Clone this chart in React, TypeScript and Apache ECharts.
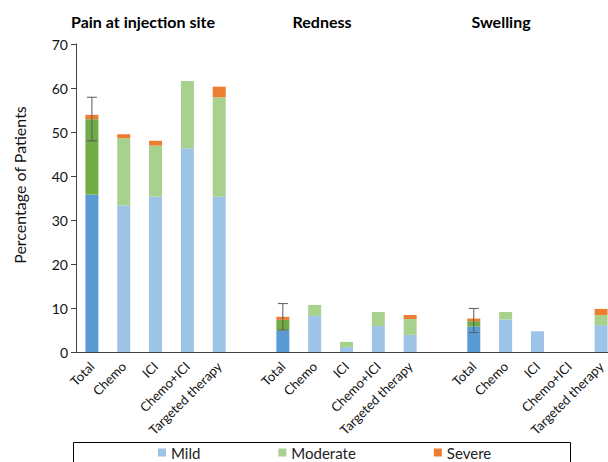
import React, { useEffect, useRef } from "react";
import * as echarts from "echarts";

const groupTitles = ["Pain at injection site", "Redness", "Swelling"];
const subCategories = ["Total", "Chemo", "ICI", "Chemo+ICI", "Targeted therapy"];

const painMild = [35.8, 33.3, 35.3, 46.3, 35.3];
const painModerate = [17.1, 15.3, 11.6, 15.3, 22.6];
const painSevere = [1.0, 0.9, 1.1, 0, 2.4];

const rednessMild = [4.9, 8.2, 1.1, 5.9, 3.9];
const rednessModerate = [2.4, 2.5, 1.2, 3.2, 3.6];
const rednessSevere = [0.7, 0, 0, 0, 0.9];

const swellingMild = [5.8, 7.4, 4.7, 0, 6.1];
const swellingModerate = [1.2, 1.7, 0, 0, 2.3];
const swellingSevere = [0.6, 0, 0, 0, 1.4];

// error bars on the "Total" bars: [low, high]
const painError = [48.0, 57.9];
const rednessError = [5.0, 11.0];
const swellingError = [4.4, 9.9];

const yTicks = [0, 10, 20, 30, 40, 50, 60, 70];

const FONT = "Lato, 'Open Sans', sans-serif";
const C_MILD = "#9DC3E6";
const C_MOD = "#A9D18E";
const C_SEV = "#ED7D31";
const C_MILD_T = "#5B9BD5";
const C_MOD_T = "#70AD47";

function joinGroups(groups: any[][]): any[] {
  const out: any[] = [];
  groups.forEach((g, i) => {
    g.forEach((v) => out.push(v));
    if (i < groups.length - 1) out.push("-");
  });
  return out;
}

export default function App() {
  const ref = useRef<HTMLDivElement>(null);
  useEffect(() => {
    document.body.style.margin = "0";
    const chart = echarts.init(ref.current!, null, { renderer: "svg" });

    const cats = joinGroups([subCategories, subCategories, subCategories]).map((c) =>
      c === "-" ? "" : c
    );
    const mild = joinGroups([painMild, rednessMild, swellingMild]);
    const mod = joinGroups([painModerate, rednessModerate, swellingModerate]);
    const sev = joinGroups([painSevere, rednessSevere, swellingSevere]);

    const styleData = (arr: any[], totalColor: string) =>
      arr.map((v, i) => {
        if (v === "-" || v === 0) return "-";
        const isTotal = cats[i] === "Total";
        return isTotal ? { value: v, itemStyle: { color: totalColor } } : v;
      });

    const totalIdx = cats.map((c, i) => (c === "Total" ? i : -1)).filter((i) => i >= 0);
    const errs = [painError, rednessError, swellingError];
    const errData = totalIdx.map((idx, k) => [idx, errs[k][0], errs[k][1]]);

    const titleStyle = (text: string) => ({
      text,
      fontFamily: FONT,
      fontWeight: "bold",
      fontSize: 16,
      fill: "#000",
      align: "center",
      verticalAlign: "middle",
    });

    const option: any = {
      animation: false,
      textStyle: { fontFamily: FONT },
      grid: {
        left: 76,
        top: 44,
        width: 541,
        height: 308,
        containLabel: false,
        outerBoundsMode: "none",
      },
      legend: {
        data: ["Mild", "Moderate", "Severe"],
        left: 158,
        top: 445,
        padding: 0,
        itemWidth: 8,
        itemHeight: 8,
        itemGap: 78,
        icon: "rect",
        textStyle: { fontFamily: FONT, fontSize: 15, color: "#222" },
      },
      xAxis: {
        type: "category",
        data: cats,
        axisLine: { lineStyle: { color: "#404040", width: 1 } },
        axisTick: { show: false },
        axisLabel: {
          interval: 0,
          rotate: 45,
          margin: 12,
          fontSize: 13,
          color: "#111",
          fontFamily: FONT,
        },
      },
      yAxis: {
        type: "value",
        min: 0,
        max: 70,
        interval: 10,
        splitLine: { show: false },
        axisLine: { show: true, lineStyle: { color: "#404040", width: 1 } },
        axisTick: { show: true, length: 5, lineStyle: { color: "#404040" } },
        axisLabel: {
          fontSize: 14,
          color: "#111",
          margin: 8,
          fontFamily: FONT,
          formatter: (v: number) => (yTicks.includes(v) ? String(v) : ""),
        },
      },
      graphic: [
        { type: "text", x: 143, y: 21, style: titleStyle(groupTitles[0]) },
        { type: "text", x: 322, y: 21, style: titleStyle(groupTitles[1]) },
        { type: "text", x: 501, y: 21, style: titleStyle(groupTitles[2]) },
        {
          type: "text",
          x: 19,
          y: 185,
          rotation: Math.PI / 2,
          style: {
            text: "Percentage of Patients",
            fontFamily: FONT,
            fontSize: 16,
            fill: "#111",
            align: "center",
            verticalAlign: "middle",
          },
        },
        {
          type: "rect",
          shape: { x: 73.5, y: 442.5, width: 497, height: 30 },
          style: { fill: "none", stroke: "#000", lineWidth: 1 },
          z: -1,
        },
      ],
      series: [
        {
          name: "Mild",
          type: "bar",
          stack: "a",
          barWidth: 13,
          itemStyle: { color: C_MILD },
          data: styleData(mild, C_MILD_T),
        },
        {
          name: "Moderate",
          type: "bar",
          stack: "a",
          barWidth: 13,
          itemStyle: { color: C_MOD },
          data: styleData(mod, C_MOD_T),
        },
        {
          name: "Severe",
          type: "bar",
          stack: "a",
          barWidth: 13,
          itemStyle: { color: C_SEV },
          data: styleData(sev, C_SEV),
        },
        {
          name: "err",
          type: "custom",
          z: 10,
          data: errData,
          encode: { x: 0, y: [1, 2] },
          renderItem: (params: any, api: any) => {
            const x = api.value(0);
            const lo = api.coord([x, api.value(1)]);
            const hi = api.coord([x, api.value(2)]);
            const hw = 5;
            const st = { stroke: "#595959", lineWidth: 1 };
            return {
              type: "group",
              children: [
                { type: "line", shape: { x1: lo[0], y1: lo[1], x2: hi[0], y2: hi[1] }, style: st },
                { type: "line", shape: { x1: lo[0] - hw, y1: lo[1], x2: lo[0] + hw, y2: lo[1] }, style: st },
                { type: "line", shape: { x1: hi[0] - hw, y1: hi[1], x2: hi[0] + hw, y2: hi[1] }, style: st },
              ],
            };
          },
        },
      ],
    };
    chart.setOption(option);
    return () => chart.dispose();
  }, []);
  return <div ref={ref} style={{ width: 608, height: 462 }} />;
}
